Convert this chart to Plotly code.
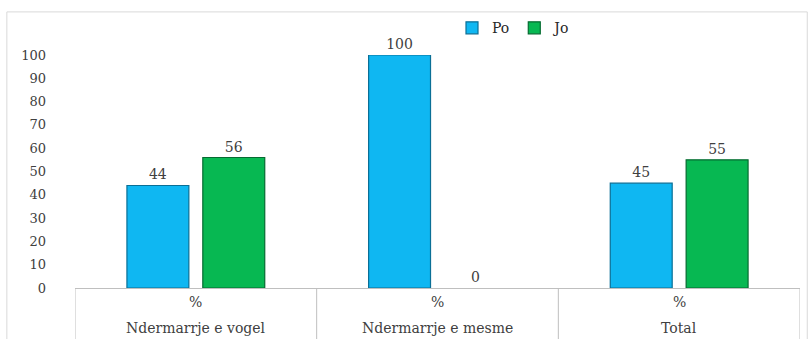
import plotly.graph_objects as go

categories = ["Ndermarrje e vogel", "Ndermarrje e mesme", "Total"]
unit_label = "%"
po_values = [44, 100, 45]
jo_values = [56, 0, 55]
y_ticks = [0, 10, 20, 30, 40, 50, 60, 70, 80, 90, 100]

FONT = "DejaVu Serif"
TXT = "#404040"

def edge_widths(vals):
    return [1.2 if v > 0 else 0 for v in vals]

fig = go.Figure()
fig.add_trace(go.Bar(
    name="Po", x=list(range(len(categories))), y=po_values,
    text=[str(v) for v in po_values], textposition="outside", cliponaxis=False,
    textfont=dict(family=FONT, size=14, color=TXT),
    marker=dict(color="#0fb7f2", line=dict(color="#0a6f96", width=edge_widths(po_values))),
))
fig.add_trace(go.Bar(
    name="Jo", x=list(range(len(categories))), y=jo_values,
    text=[str(v) for v in jo_values], textposition="outside", cliponaxis=False,
    textfont=dict(family=FONT, size=14, color=TXT),
    marker=dict(color="#07b852", line=dict(color="#056b31", width=edge_widths(jo_values))),
))

shapes = []
for b in [i - 0.5 for i in range(len(categories) + 1)]:
    shapes.append(dict(type="line", xref="x", yref="paper", x0=b, x1=b, y0=0, y1=-0.25,
                       line=dict(color="#bfbfbf", width=1)))
shapes.append(dict(type="rect", xref="paper", yref="paper", x0=-0.094, x1=1.01, y0=-0.3, y1=1.185,
                   line=dict(color="#d9d9d9", width=1), fillcolor="rgba(0,0,0,0)", layer="below"))

annotations = []
for i, c in enumerate(categories):
    annotations.append(dict(x=i, xref="x", yref="paper", y=-0.06, yanchor="middle", text=unit_label,
                            showarrow=False, font=dict(family=FONT, size=14, color=TXT)))
    annotations.append(dict(x=i, xref="x", yref="paper", y=-0.17, yanchor="middle", text=c,
                            showarrow=False, font=dict(family=FONT, size=14, color=TXT)))

fig.update_layout(
    width=812, height=339,
    margin=dict(l=75, r=12, t=55, b=51),
    paper_bgcolor="white", plot_bgcolor="white",
    barmode="group", bargap=0.372, bargroupgap=0.184,
    showlegend=True,
    legend=dict(orientation="h", x=0.52, xanchor="left", y=1.115, yanchor="middle",
                font=dict(family=FONT, size=14, color="#262626"), itemwidth=30,
                bgcolor="rgba(0,0,0,0)", tracegroupgap=0),
    xaxis=dict(range=[-0.5, 2.5], showticklabels=False, showgrid=False, zeroline=False,
               showline=True, linecolor="#bfbfbf", linewidth=1, ticks=""),
    yaxis=dict(range=[0, 100], tickvals=y_ticks, showgrid=False, zeroline=False,
               showline=False, ticklabelstandoff=28,
               tickfont=dict(family=FONT, size=13, color=TXT)),
    shapes=shapes, annotations=annotations,
    font=dict(family=FONT),
)

fig.write_html("out.html")
